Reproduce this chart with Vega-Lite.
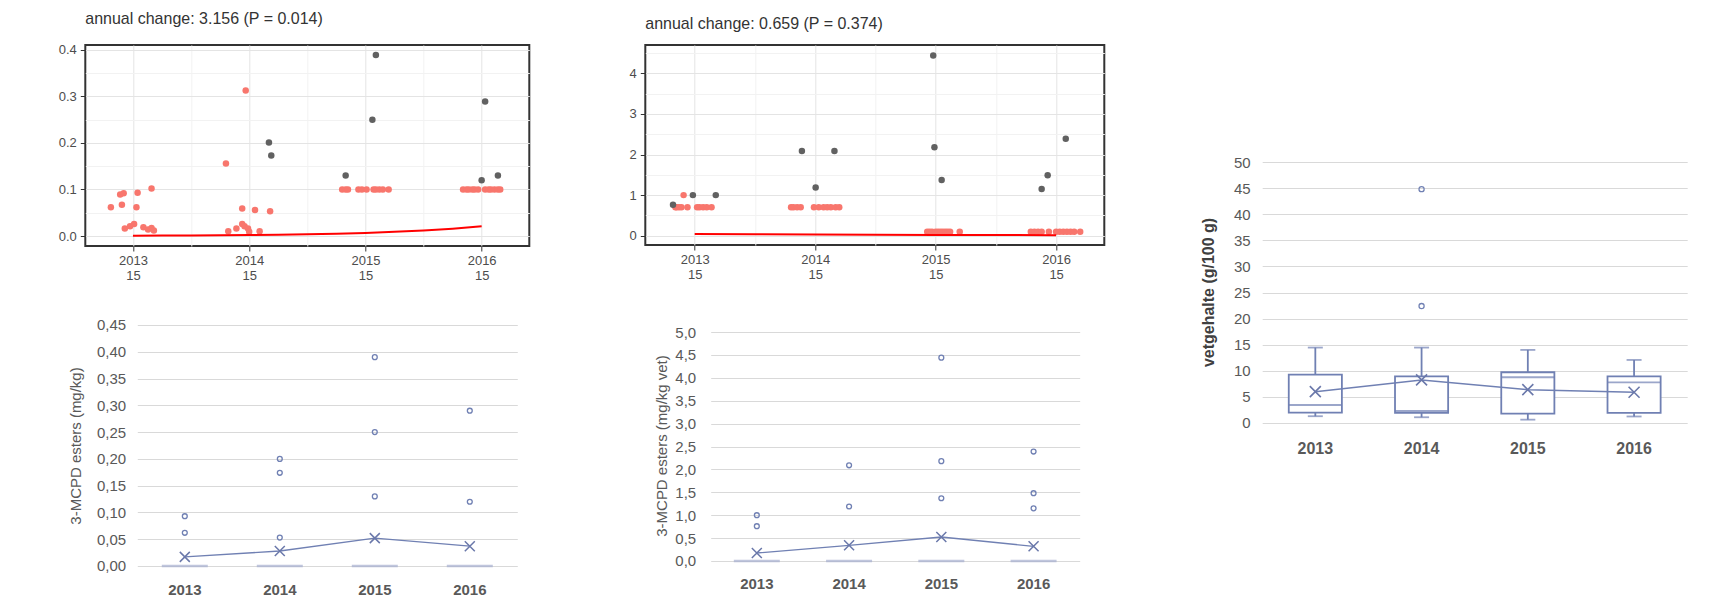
{
  "$schema": "https://vega.github.io/schema/vega-lite/v6.json",
  "background": "white",
  "padding": {"left": 53.3, "top": 10, "right": 5, "bottom": 5},
  "datasets": {
    "ptsA": [
      {"x": 2012.81, "y": 0.062, "status": "censored"},
      {"x": 2012.89, "y": 0.089, "status": "censored"},
      {"x": 2012.92, "y": 0.092, "status": "censored"},
      {"x": 2012.905, "y": 0.067, "status": "censored"},
      {"x": 2013.03, "y": 0.062, "status": "censored"},
      {"x": 2013.04, "y": 0.093, "status": "censored"},
      {"x": 2013.16, "y": 0.102, "status": "censored"},
      {"x": 2012.93, "y": 0.016, "status": "censored"},
      {"x": 2012.975, "y": 0.021, "status": "censored"},
      {"x": 2013.01, "y": 0.026, "status": "censored"},
      {"x": 2013.09, "y": 0.019, "status": "censored"},
      {"x": 2013.13, "y": 0.014, "status": "censored"},
      {"x": 2013.16, "y": 0.017, "status": "censored"},
      {"x": 2013.18, "y": 0.012, "status": "censored"},
      {"x": 2013.80, "y": 0.156, "status": "censored"},
      {"x": 2013.97, "y": 0.313, "status": "censored"},
      {"x": 2013.94, "y": 0.059, "status": "censored"},
      {"x": 2014.05, "y": 0.056, "status": "censored"},
      {"x": 2014.18, "y": 0.053, "status": "censored"},
      {"x": 2013.82, "y": 0.010, "status": "censored"},
      {"x": 2013.89, "y": 0.016, "status": "censored"},
      {"x": 2013.94, "y": 0.026, "status": "censored"},
      {"x": 2013.96, "y": 0.021, "status": "censored"},
      {"x": 2013.99, "y": 0.016, "status": "censored"},
      {"x": 2014.00, "y": 0.009, "status": "censored"},
      {"x": 2014.09, "y": 0.010, "status": "censored"},
      {"x": 2014.80, "y": 0.1, "status": "censored"},
      {"x": 2014.83, "y": 0.1, "status": "censored"},
      {"x": 2014.85, "y": 0.1, "status": "censored"},
      {"x": 2014.94, "y": 0.1, "status": "censored"},
      {"x": 2014.97, "y": 0.1, "status": "censored"},
      {"x": 2015.01, "y": 0.1, "status": "censored"},
      {"x": 2015.07, "y": 0.1, "status": "censored"},
      {"x": 2015.09, "y": 0.1, "status": "censored"},
      {"x": 2015.12, "y": 0.1, "status": "censored"},
      {"x": 2015.15, "y": 0.1, "status": "censored"},
      {"x": 2015.20, "y": 0.1, "status": "censored"},
      {"x": 2015.84, "y": 0.1, "status": "censored"},
      {"x": 2015.87, "y": 0.1, "status": "censored"},
      {"x": 2015.89, "y": 0.1, "status": "censored"},
      {"x": 2015.92, "y": 0.1, "status": "censored"},
      {"x": 2015.94, "y": 0.1, "status": "censored"},
      {"x": 2015.97, "y": 0.1, "status": "censored"},
      {"x": 2016.03, "y": 0.1, "status": "censored"},
      {"x": 2016.06, "y": 0.1, "status": "censored"},
      {"x": 2016.08, "y": 0.1, "status": "censored"},
      {"x": 2016.11, "y": 0.1, "status": "censored"},
      {"x": 2016.14, "y": 0.1, "status": "censored"},
      {"x": 2016.16, "y": 0.1, "status": "censored"},
      {"x": 2014.17, "y": 0.201, "status": "detected"},
      {"x": 2014.19, "y": 0.173, "status": "detected"},
      {"x": 2014.83, "y": 0.130, "status": "detected"},
      {"x": 2015.06, "y": 0.250, "status": "detected"},
      {"x": 2015.09, "y": 0.389, "status": "detected"},
      {"x": 2016.00, "y": 0.120, "status": "detected"},
      {"x": 2016.03, "y": 0.289, "status": "detected"},
      {"x": 2016.14, "y": 0.130, "status": "detected"}
    ],
    "fitA": [
      {"x": 2013.0, "y": 0.0008},
      {"x": 2013.25, "y": 0.001},
      {"x": 2013.5, "y": 0.0013},
      {"x": 2013.75, "y": 0.0017},
      {"x": 2014.0, "y": 0.0022},
      {"x": 2014.25, "y": 0.0029},
      {"x": 2014.5, "y": 0.0038},
      {"x": 2014.75, "y": 0.0051},
      {"x": 2015.0, "y": 0.0067},
      {"x": 2015.25, "y": 0.0089},
      {"x": 2015.5, "y": 0.0119},
      {"x": 2015.75, "y": 0.0158},
      {"x": 2016.0, "y": 0.021}
    ],
    "ptsB": [
      {"x": 2012.908, "y": 1.0, "status": "censored"},
      {"x": 2012.84, "y": 0.7, "status": "censored"},
      {"x": 2012.85, "y": 0.7, "status": "censored"},
      {"x": 2012.87, "y": 0.7, "status": "censored"},
      {"x": 2012.89, "y": 0.7, "status": "censored"},
      {"x": 2012.94, "y": 0.7, "status": "censored"},
      {"x": 2013.02, "y": 0.7, "status": "censored"},
      {"x": 2013.04, "y": 0.7, "status": "censored"},
      {"x": 2013.07, "y": 0.7, "status": "censored"},
      {"x": 2013.10, "y": 0.7, "status": "censored"},
      {"x": 2013.14, "y": 0.7, "status": "censored"},
      {"x": 2013.80, "y": 0.7, "status": "censored"},
      {"x": 2013.82, "y": 0.7, "status": "censored"},
      {"x": 2013.85, "y": 0.7, "status": "censored"},
      {"x": 2013.88, "y": 0.7, "status": "censored"},
      {"x": 2013.99, "y": 0.7, "status": "censored"},
      {"x": 2014.03, "y": 0.7, "status": "censored"},
      {"x": 2014.07, "y": 0.7, "status": "censored"},
      {"x": 2014.10, "y": 0.7, "status": "censored"},
      {"x": 2014.13, "y": 0.7, "status": "censored"},
      {"x": 2014.17, "y": 0.7, "status": "censored"},
      {"x": 2014.20, "y": 0.7, "status": "censored"},
      {"x": 2014.93, "y": 0.1, "status": "censored"},
      {"x": 2014.95, "y": 0.1, "status": "censored"},
      {"x": 2014.97, "y": 0.1, "status": "censored"},
      {"x": 2015.00, "y": 0.1, "status": "censored"},
      {"x": 2015.02, "y": 0.1, "status": "censored"},
      {"x": 2015.04, "y": 0.1, "status": "censored"},
      {"x": 2015.06, "y": 0.1, "status": "censored"},
      {"x": 2015.08, "y": 0.1, "status": "censored"},
      {"x": 2015.10, "y": 0.1, "status": "censored"},
      {"x": 2015.12, "y": 0.1, "status": "censored"},
      {"x": 2015.20, "y": 0.1, "status": "censored"},
      {"x": 2015.79, "y": 0.1, "status": "censored"},
      {"x": 2015.82, "y": 0.1, "status": "censored"},
      {"x": 2015.85, "y": 0.1, "status": "censored"},
      {"x": 2015.88, "y": 0.1, "status": "censored"},
      {"x": 2015.94, "y": 0.1, "status": "censored"},
      {"x": 2016.00, "y": 0.1, "status": "censored"},
      {"x": 2016.03, "y": 0.1, "status": "censored"},
      {"x": 2016.06, "y": 0.1, "status": "censored"},
      {"x": 2016.09, "y": 0.1, "status": "censored"},
      {"x": 2016.12, "y": 0.1, "status": "censored"},
      {"x": 2016.15, "y": 0.1, "status": "censored"},
      {"x": 2016.20, "y": 0.1, "status": "censored"},
      {"x": 2012.82, "y": 0.764, "status": "detected"},
      {"x": 2012.985, "y": 1.0, "status": "detected"},
      {"x": 2013.175, "y": 1.0, "status": "detected"},
      {"x": 2013.89, "y": 2.09, "status": "detected"},
      {"x": 2014.16, "y": 2.09, "status": "detected"},
      {"x": 2014.004, "y": 1.19, "status": "detected"},
      {"x": 2014.98, "y": 4.44, "status": "detected"},
      {"x": 2014.99, "y": 2.18, "status": "detected"},
      {"x": 2015.05, "y": 1.37, "status": "detected"},
      {"x": 2015.88, "y": 1.15, "status": "detected"},
      {"x": 2015.93, "y": 1.49, "status": "detected"},
      {"x": 2016.08, "y": 2.39, "status": "detected"}
    ],
    "fitB": [
      {"x": 2013.0, "y": 0.045},
      {"x": 2013.5, "y": 0.037},
      {"x": 2014.0, "y": 0.030},
      {"x": 2014.5, "y": 0.024},
      {"x": 2015.0, "y": 0.020},
      {"x": 2015.5, "y": 0.016},
      {"x": 2016.0, "y": 0.013}
    ],
    "boxC": [
      {"year": "2013", "q3": 0}, {"year": "2014", "q3": 0}, {"year": "2015", "q3": 0}, {"year": "2016", "q3": 0}
    ],
    "meanC": [
      {"year": "2013", "mean": 0.017}, {"year": "2014", "mean": 0.028}, {"year": "2015", "mean": 0.052}, {"year": "2016", "mean": 0.037}
    ],
    "outC": [
      {"year": "2013", "value": 0.093}, {"year": "2013", "value": 0.062},
      {"year": "2014", "value": 0.200}, {"year": "2014", "value": 0.174}, {"year": "2014", "value": 0.053},
      {"year": "2015", "value": 0.390}, {"year": "2015", "value": 0.250}, {"year": "2015", "value": 0.130},
      {"year": "2016", "value": 0.290}, {"year": "2016", "value": 0.120}
    ],
    "boxD": [
      {"year": "2013", "q3": 0}, {"year": "2014", "q3": 0}, {"year": "2015", "q3": 0}, {"year": "2016", "q3": 0}
    ],
    "meanD": [
      {"year": "2013", "mean": 0.175}, {"year": "2014", "mean": 0.342}, {"year": "2015", "mean": 0.524}, {"year": "2016", "mean": 0.32}
    ],
    "outD": [
      {"year": "2013", "value": 1.0}, {"year": "2013", "value": 0.76},
      {"year": "2014", "value": 2.09}, {"year": "2014", "value": 1.19},
      {"year": "2015", "value": 4.44}, {"year": "2015", "value": 2.18}, {"year": "2015", "value": 1.37},
      {"year": "2016", "value": 2.39}, {"year": "2016", "value": 1.48}, {"year": "2016", "value": 1.15}
    ],
    "boxE": [
      {"year": "2013", "min": 1.3, "q1": 2.0, "median": 3.45, "q3": 9.27, "max": 14.45, "mean": 6.0},
      {"year": "2014", "min": 1.1, "q1": 1.95, "median": 2.3, "q3": 8.95, "max": 14.45, "mean": 8.25},
      {"year": "2015", "min": 0.64, "q1": 1.8, "median": 8.76, "q3": 9.72, "max": 14.0, "mean": 6.39},
      {"year": "2016", "min": 1.25, "q1": 1.95, "median": 7.8, "q3": 8.95, "max": 12.08, "mean": 5.88}
    ],
    "outE": [
      {"year": "2014", "value": 44.8}, {"year": "2014", "value": 22.4}
    ]
  },
  "hconcat": [
    {
      "vconcat": [
        {
          "hconcat": [
            {"width": 1, "height": 1, "data": {"values": []}, "mark": {"type": "point"}, "encoding": {}},
            {
              "hconcat": [
                {
                  "width": 444, "height": 201,
                  "view": {"stroke": "#333333", "strokeWidth": 2},
                  "title": {"text": "annual change: 3.156 (P = 0.014)", "anchor": "start", "frame": "group", "baseline": "top", "fontSize": 16, "fontWeight": "normal", "color": "#333333", "offset": 16.7},
                  "layer": [
                    {
                      "data": {"name": "ptsA"},
                      "mark": {"type": "circle", "size": 42, "opacity": 1},
                      "encoding": {
                        "x": {"field": "x", "type": "quantitative",
                          "scale": {"domain": [2012.59, 2016.41], "nice": false, "zero": false},
                          "axis": {"values": [2013, 2013.5, 2014, 2014.5, 2015, 2015.5, 2016], "tickCount": 8, "labelExpr": "datum.value % 1 === 0 ? [format(datum.value, 'd'), '15'] : ''", "title": null, "domain": false, "grid": true,
                            "gridColor": {"condition": {"test": "datum.value % 1 !== 0", "value": "#f2f2f2"}, "value": "#e4e4e4"},
                            "tickOpacity": {"condition": {"test": "datum.value % 1 !== 0", "value": 0}, "value": 1},
                            "tickSize": 5, "tickColor": "#333333", "labelFontSize": 13, "labelColor": "#4d4d4d", "labelPadding": 3, "labelLineHeight": 15.6, "labelFlush": false, "labelOverlap": false, "labelAngle": 0}},
                        "y": {"field": "y", "type": "quantitative",
                          "scale": {"domain": [-0.0215, 0.4107], "nice": false, "zero": false},
                          "axis": {"values": [0, 0.05, 0.1, 0.15, 0.2, 0.25, 0.3, 0.35, 0.4], "tickCount": 9, "labelExpr": "abs(datum.value*10 - round(datum.value*10)) < 0.001 ? format(datum.value, '.1f') : ''", "title": null, "domain": false, "grid": true,
                            "gridColor": {"condition": {"test": "abs(datum.value*10 - round(datum.value*10)) > 0.001", "value": "#f2f2f2"}, "value": "#e4e4e4"},
                            "tickOpacity": {"condition": {"test": "abs(datum.value*10 - round(datum.value*10)) > 0.001", "value": 0}, "value": 1},
                            "tickSize": 5, "tickColor": "#333333", "labelFontSize": 13, "labelColor": "#4d4d4d", "labelPadding": 4, "minExtent": 29.3, "labelFlush": false, "labelOverlap": false}},
                        "color": {"field": "status", "type": "nominal", "scale": {"domain": ["censored", "detected"], "range": ["#F8766D", "#616161"]}, "legend": null}
                      }
                    },
                    {
                      "data": {"name": "fitA"},
                      "mark": {"type": "line", "color": "#FF0000", "strokeWidth": 2},
                      "encoding": {
                        "x": {"field": "x", "type": "quantitative"},
                        "y": {"field": "y", "type": "quantitative"}
                      }
                    }
                  ]
                },
                {
                  "width": 459, "height": 200,
                  "view": {"stroke": "#333333", "strokeWidth": 2},
                  "title": {"text": "annual change: 0.659 (P = 0.374)", "anchor": "start", "frame": "group", "baseline": "top", "fontSize": 16, "fontWeight": "normal", "color": "#333333", "offset": 16.7, "dy": 3.5},
                  "layer": [
                    {
                      "data": {"name": "ptsB"},
                      "mark": {"type": "circle", "size": 42, "opacity": 1},
                      "encoding": {
                        "x": {"field": "x", "type": "quantitative",
                          "scale": {"domain": [2012.59, 2016.40], "nice": false, "zero": false},
                          "axis": {"values": [2013, 2013.5, 2014, 2014.5, 2015, 2015.5, 2016], "tickCount": 8, "labelExpr": "datum.value % 1 === 0 ? [format(datum.value, 'd'), '15'] : ''", "title": null, "domain": false, "grid": true,
                            "gridColor": {"condition": {"test": "datum.value % 1 !== 0", "value": "#f2f2f2"}, "value": "#e4e4e4"},
                            "tickOpacity": {"condition": {"test": "datum.value % 1 !== 0", "value": 0}, "value": 1},
                            "tickSize": 5, "tickColor": "#333333", "labelFontSize": 13, "labelColor": "#4d4d4d", "labelPadding": 3, "labelLineHeight": 15.6, "labelFlush": false, "labelOverlap": false, "labelAngle": 0}},
                        "y": {"field": "y", "type": "quantitative",
                          "scale": {"domain": [-0.229, 4.699], "nice": false, "zero": false},
                          "axis": {"values": [0, 0.5, 1, 1.5, 2, 2.5, 3, 3.5, 4, 4.5], "tickCount": 10, "labelExpr": "datum.value % 1 === 0 ? format(datum.value, 'd') : ''", "title": null, "domain": false, "grid": true,
                            "gridColor": {"condition": {"test": "datum.value % 1 !== 0", "value": "#f2f2f2"}, "value": "#e4e4e4"},
                            "tickOpacity": {"condition": {"test": "datum.value % 1 !== 0", "value": 0}, "value": 1},
                            "tickSize": 5, "tickColor": "#333333", "labelFontSize": 13, "labelColor": "#4d4d4d", "labelPadding": 4, "minExtent": 18, "labelFlush": false, "labelOverlap": false}},
                        "color": {"field": "status", "type": "nominal", "scale": {"domain": ["censored", "detected"], "range": ["#F8766D", "#616161"]}, "legend": null}
                      }
                    },
                    {
                      "data": {"name": "fitB"},
                      "mark": {"type": "line", "color": "#FF0000", "strokeWidth": 2},
                      "encoding": {
                        "x": {"field": "x", "type": "quantitative"},
                        "y": {"field": "y", "type": "quantitative"}
                      }
                    }
                  ]
                }
              ],
              "spacing": 96
            }
          ],
          "spacing": 0
        },
        {
          "hconcat": [
            {"width": 13.1, "height": 1, "data": {"values": []}, "mark": {"type": "point"}, "encoding": {}},
            {
              "hconcat": [
                {
                  "width": 380, "height": 241,
                  "layer": [
                    {
                      "data": {"name": "boxC"},
                      "mark": {"type": "tick", "color": "#A5AECF", "thickness": 2.5, "size": 46},
                      "encoding": {
                        "x": {"field": "year", "type": "nominal", "scale": {"type": "band", "paddingInner": 0, "paddingOuter": 0},
                          "axis": {"title": null, "domain": false, "ticks": false, "tickSize": 0, "grid": false, "labelAngle": 0, "labelFontSize": 15, "labelFontWeight": "bold", "labelColor": "#595959", "labelPadding": 17}},
                        "y": {"field": "q3", "type": "quantitative", "scale": {"domain": [0, 0.45], "nice": false},
                          "axis": {"values": [0, 0.05, 0.1, 0.15, 0.2, 0.25, 0.3, 0.35, 0.4, 0.45], "tickCount": 10, "labelExpr": "replace(format(datum.value, '.2f'), '.', ',')",
                            "title": "3-MCPD esters (mg/kg)", "titleFontSize": 15, "titleFontWeight": "normal", "titleColor": "#595959", "titleAngle": 270, "titleBaseline": "bottom", "titleAlign": "center", "titleX": -53.9, "titleY": 120.5,
                            "minExtent": 70, "domain": false, "ticks": false, "tickSize": 0, "grid": true, "gridColor": "#D9D9D9", "labelFontSize": 15, "labelColor": "#595959", "labelPadding": 11.7, "labelOverlap": false, "labelFlush": false}}
                      }
                    },
                    {
                      "data": {"name": "meanC"},
                      "mark": {"type": "line", "color": "#7080B3", "strokeWidth": 1.3},
                      "encoding": {"x": {"field": "year", "type": "nominal"}, "y": {"field": "mean", "type": "quantitative"}}
                    },
                    {
                      "data": {"name": "meanC"},
                      "mark": {"type": "point", "shape": "M-1,-1L1,1M-1,1L1,-1", "filled": false, "color": "#6A78AA", "strokeWidth": 1.5, "size": 100, "opacity": 1},
                      "encoding": {"x": {"field": "year", "type": "nominal"}, "y": {"field": "mean", "type": "quantitative"}}
                    },
                    {
                      "data": {"name": "outC"},
                      "mark": {"type": "point", "shape": "circle", "filled": false, "color": "#7080B3", "strokeWidth": 1.3, "size": 24, "opacity": 1},
                      "encoding": {"x": {"field": "year", "type": "nominal"}, "y": {"field": "value", "type": "quantitative"}}
                    }
                  ]
                },
                {
                  "width": 369, "height": 236,
                  "layer": [
                    {
                      "data": {"name": "boxD"},
                      "mark": {"type": "tick", "color": "#A5AECF", "thickness": 2.5, "size": 46},
                      "encoding": {
                        "x": {"field": "year", "type": "nominal", "scale": {"type": "band", "paddingInner": 0, "paddingOuter": 0},
                          "axis": {"title": null, "domain": false, "ticks": false, "tickSize": 0, "grid": false, "labelAngle": 0, "labelFontSize": 15, "labelFontWeight": "bold", "labelColor": "#595959", "labelPadding": 16}},
                        "y": {"field": "q3", "type": "quantitative", "scale": {"domain": [0, 5.153], "nice": false},
                          "axis": {"values": [0, 0.5, 1, 1.5, 2, 2.5, 3, 3.5, 4, 4.5, 5], "tickCount": 11, "labelExpr": "replace(format(datum.value, '.1f'), '.', ',')",
                            "title": "3-MCPD esters (mg/kg vet)", "titleFontSize": 15, "titleFontWeight": "normal", "titleColor": "#595959", "titleAngle": 270, "titleBaseline": "bottom", "titleAlign": "center", "titleX": -41.4, "titleY": 120.5,
                            "minExtent": 58.1, "domain": false, "ticks": false, "tickSize": 0, "grid": true, "gridColor": "#D9D9D9", "labelFontSize": 15, "labelColor": "#595959", "labelPadding": 15, "labelOverlap": false, "labelFlush": false}}
                      }
                    },
                    {
                      "data": {"name": "meanD"},
                      "mark": {"type": "line", "color": "#7080B3", "strokeWidth": 1.3},
                      "encoding": {"x": {"field": "year", "type": "nominal"}, "y": {"field": "mean", "type": "quantitative"}}
                    },
                    {
                      "data": {"name": "meanD"},
                      "mark": {"type": "point", "shape": "M-1,-1L1,1M-1,1L1,-1", "filled": false, "color": "#6A78AA", "strokeWidth": 1.5, "size": 100, "opacity": 1},
                      "encoding": {"x": {"field": "year", "type": "nominal"}, "y": {"field": "mean", "type": "quantitative"}}
                    },
                    {
                      "data": {"name": "outD"},
                      "mark": {"type": "point", "shape": "circle", "filled": false, "color": "#7080B3", "strokeWidth": 1.3, "size": 24, "opacity": 1},
                      "encoding": {"x": {"field": "year", "type": "nominal"}, "y": {"field": "value", "type": "quantitative"}}
                    }
                  ]
                }
              ],
              "spacing": 134.4
            }
          ],
          "spacing": 0
        }
      ],
      "spacing": 34
    },
    {
      "width": 425, "height": 261,
      "layer": [
        {
          "data": {"name": "boxE"},
          "mark": {"type": "tick", "color": "#7080B3", "thickness": 1.8, "size": 53},
          "encoding": {
            "x": {"field": "year", "type": "nominal", "scale": {"type": "band", "paddingInner": 0, "paddingOuter": 0},
              "axis": {"title": null, "domain": false, "ticks": false, "tickSize": 0, "grid": false, "labelAngle": 0, "labelFontSize": 16, "labelFontWeight": "bold", "labelColor": "#595959", "labelPadding": 18, "minExtent": 58}},
            "y": {"field": "median", "type": "quantitative", "scale": {"domain": [0, 50], "nice": false},
              "axis": {"values": [0, 5, 10, 15, 20, 25, 30, 35, 40, 45, 50], "tickCount": 11, "labelExpr": "format(datum.value, 'd')",
                "title": "vetgehalte (g/100 g)", "titleFontSize": 16, "titleFontWeight": "bold", "titleColor": "#404040", "titleAngle": 270, "titleBaseline": "bottom", "titleAlign": "center", "titleX": -45.6, "titleY": 130,
                "minExtent": 67.5, "domain": false, "ticks": false, "tickSize": 0, "grid": true, "gridColor": "#D9D9D9", "labelFontSize": 15, "labelColor": "#595959", "labelPadding": 12, "labelOverlap": false, "labelFlush": false}}
          }
        },
        {
          "data": {"name": "boxE"},
          "mark": {"type": "rule", "color": "#7080B3", "strokeWidth": 1.8},
          "encoding": {"x": {"field": "year", "type": "nominal"}, "y": {"field": "q3", "type": "quantitative"}, "y2": {"field": "max"}}
        },
        {
          "data": {"name": "boxE"},
          "mark": {"type": "rule", "color": "#7080B3", "strokeWidth": 1.8},
          "encoding": {"x": {"field": "year", "type": "nominal"}, "y": {"field": "min", "type": "quantitative"}, "y2": {"field": "q1"}}
        },
        {
          "data": {"name": "boxE"},
          "mark": {"type": "bar", "fill": "white", "stroke": "#7080B3", "strokeWidth": 1.8, "width": {"band": 0.5}},
          "encoding": {"x": {"field": "year", "type": "nominal"}, "y": {"field": "q1", "type": "quantitative"}, "y2": {"field": "q3"}}
        },
        {
          "data": {"name": "boxE"},
          "mark": {"type": "tick", "color": "#7080B3", "thickness": 1.8, "size": 53},
          "encoding": {"x": {"field": "year", "type": "nominal"}, "y": {"field": "median", "type": "quantitative"}}
        },
        {
          "data": {"name": "boxE"},
          "mark": {"type": "tick", "color": "#7080B3", "thickness": 1.8, "size": 15},
          "encoding": {"x": {"field": "year", "type": "nominal"}, "y": {"field": "max", "type": "quantitative"}}
        },
        {
          "data": {"name": "boxE"},
          "mark": {"type": "tick", "color": "#7080B3", "thickness": 1.8, "size": 15},
          "encoding": {"x": {"field": "year", "type": "nominal"}, "y": {"field": "min", "type": "quantitative"}}
        },
        {
          "data": {"name": "boxE"},
          "mark": {"type": "line", "color": "#7080B3", "strokeWidth": 1.5},
          "encoding": {"x": {"field": "year", "type": "nominal"}, "y": {"field": "mean", "type": "quantitative"}}
        },
        {
          "data": {"name": "boxE"},
          "mark": {"type": "point", "shape": "M-1,-1L1,1M-1,1L1,-1", "filled": false, "color": "#6A78AA", "strokeWidth": 1.6, "size": 121, "opacity": 1},
          "encoding": {"x": {"field": "year", "type": "nominal"}, "y": {"field": "mean", "type": "quantitative"}}
        },
        {
          "data": {"name": "outE"},
          "mark": {"type": "point", "shape": "circle", "filled": false, "color": "#7080B3", "strokeWidth": 1.3, "size": 26, "opacity": 1},
          "encoding": {"x": {"field": "year", "type": "nominal"}, "y": {"field": "value", "type": "quantitative"}}
        }
      ]
    }
  ],
  "spacing": 88.9,
  "center": true,
  "config": {
    "font": "Liberation Sans",
    "view": {"stroke": null},
    "axis": {"labelFont": "Liberation Sans", "titleFont": "Liberation Sans"},
    "title": {"font": "Liberation Sans"}
  }
}
